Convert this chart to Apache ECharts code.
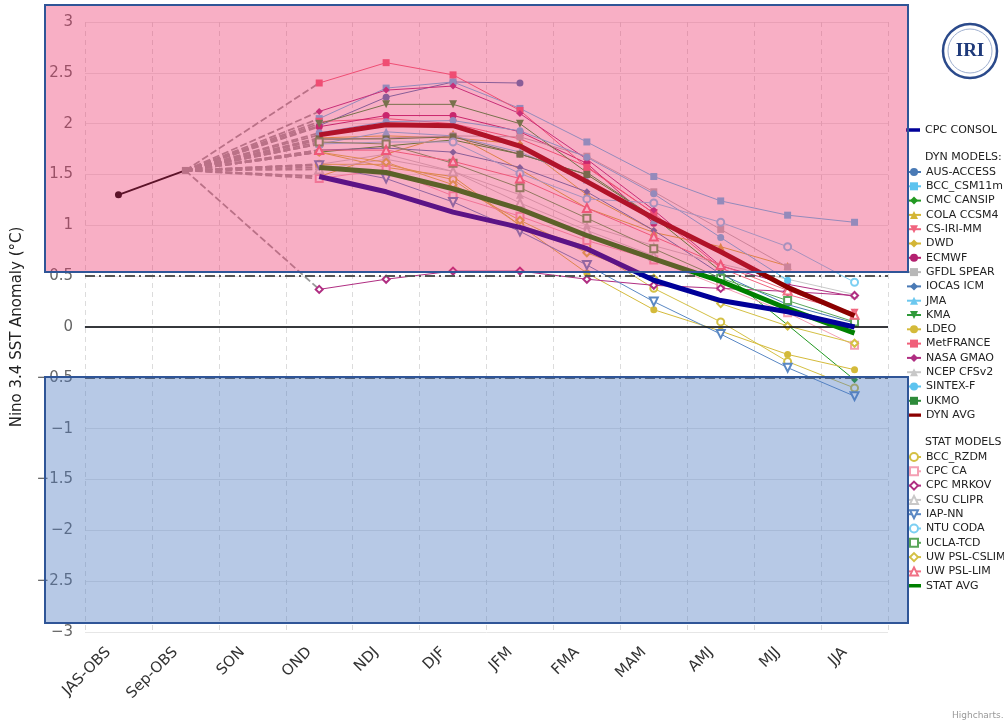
<!DOCTYPE html>
<html><head><meta charset="utf-8">
<script src="https://cdn.jsdelivr.net/npm/echarts@6/dist/echarts.min.js"></script>
<style>html,body{margin:0;padding:0;background:#fff}#c{width:1004px;height:723px}</style>
</head><body><div id="c"></div>
<script>
// ---- categories / ticks ----
const categories = ['JAS-OBS','Sep-OBS','SON','OND','NDJ','DJF','JFM','FMA','MAM','AMJ','MJJ','JJA'];
const yTicks = [-3,-2.5,-2,-1.5,-1,-0.5,0,0.5,1,1.5,2,2.5,3];
// ---- observations ----
const OBS = [1.30, 1.54];
// ---- forecasts, starting at OND ----
const CPC_CONSOL = [1.48, 1.33, 1.13, 0.98, 0.77, 0.46, 0.26, 0.15, 0.0];
const DYN_AVG    = [1.89, 1.99, 1.98, 1.78, 1.43, 1.07, 0.74, 0.39, 0.11];
const STAT_AVG   = [1.57, 1.52, 1.36, 1.16, 0.90, 0.67, 0.45, 0.18, -0.06];

const AUS_ACCESS = [1.98, 2.26, 2.41, 2.40];
const BCC_CSM11m = [2.05, 2.35, 2.41, 2.15, 1.82, 1.48, 1.24, 1.10, 1.03];
const CMC_CANSIP = [1.72, 1.78, 1.84, 1.70, 1.50, 1.08, 0.55, 0.02, -0.52];
const COLA_CCSM4 = [1.48, 1.70, 1.90, 1.55, 1.17, 0.93, 0.79, 0.60];
const CS_IRI_MM  = [2.02, 2.05, 2.00, 1.85, 1.58, 1.12, 0.58, 0.32, 0.14];
const DWD        = [1.86, 1.88, 1.86, 1.80, 1.30, 0.95];
const ECMWF      = [1.97, 2.08, 2.08, 1.92, 1.61, 1.02];
const GFDL_SPEAR = [1.84, 1.86, 1.88, 1.87, 1.68, 1.33, 0.96, 0.59];
const IOCAS_ICM  = [1.74, 1.76, 1.72, 1.57, 1.33, 0.95, 0.52, 0.22, 0.04];
const JMA        = [1.80, 1.92, 1.88, 1.72, 1.45, 1.05];
const KMA        = [2.00, 2.19, 2.19, 2.00, 1.52, 1.08];
const LDEO       = [1.72, 1.57, 1.48, 1.00, 0.53, 0.17, -0.04, -0.27, -0.42];
const MetFRANCE  = [2.40, 2.60, 2.48, 2.13, 1.57, 1.12];
const NASA_GMAO  = [2.12, 2.33, 2.37, 2.10, 1.65, 1.15, 0.60, 0.42, 0.30];
const NCEP_CFSv2 = [1.60, 1.70, 1.53, 1.30, 1.00, 0.80, 0.62, 0.47, 0.32];
const SINTEX_F   = [1.91, 2.02, 2.03, 1.93, 1.67, 1.31, 0.88, 0.46];
const UKMO       = [1.85, 1.85, 1.87, 1.70, 1.50];

const BCC_RZDM   = [1.60, 1.60, 1.45, 1.00, 0.79, 0.38, 0.05, -0.34, -0.60];
const CPC_CA     = [1.46, 1.55, 1.29, 1.09, 0.85, 0.66, 0.40, 0.14, -0.18];
const CPC_MRKOV  = [0.37, 0.47, 0.55, 0.55, 0.47, 0.41, 0.38, 0.35, 0.31];
const CSU_CLIPR  = [1.55, 1.65, 1.53, 1.22, 0.95, 0.70];
const IAP_NN     = [1.59, 1.46, 1.23, 0.94, 0.61, 0.25, -0.07, -0.40, -0.68];
const NTU_CODA   = [1.80, 1.82, 1.82, 1.51, 1.26, 1.22, 1.03, 0.79, 0.44];
const UCLA_TCD   = [1.82, 1.80, 1.61, 1.37, 1.07, 0.77, 0.48, 0.26, 0.05];
const UW_PSL_CSLIM = [1.72, 1.62, 1.40, 1.05, 0.73, 0.48, 0.23, 0.01, -0.16];
const UW_PSL_LIM   = [1.74, 1.74, 1.63, 1.46, 1.17, 0.89, 0.61, 0.36, 0.12];

const START = 3; // OND index
function pad(arr){ const out = new Array(categories.length).fill(null); arr.forEach((v,i)=>{out[START+i]=v;}); return out; }

const dyn = [
  ['AUS-ACCESS', AUS_ACCESS, '#4a7ab5', 'circle', 0],
  ['BCC_CSM11m', BCC_CSM11m, '#5cc3ef', 'rect', 0],
  ['CMC CANSIP', CMC_CANSIP, '#229922', 'diamond', 0],
  ['COLA CCSM4', COLA_CCSM4, '#d4b535', 'triangle', 0],
  ['CS-IRI-MM', CS_IRI_MM, '#f0647e', 'triangle', 180],
  ['DWD', DWD, '#d4b535', 'diamond', 0],
  ['ECMWF', ECMWF, '#b3206f', 'circle', 0],
  ['GFDL SPEAR', GFDL_SPEAR, '#b8b8b8', 'rect', 0],
  ['IOCAS ICM', IOCAS_ICM, '#4a7ab5', 'diamond', 0],
  ['JMA', JMA, '#6cc8ef', 'triangle', 0],
  ['KMA', KMA, '#2f9a3a', 'triangle', 180],
  ['LDEO', LDEO, '#d4ba3a', 'circle', 0],
  ['MetFRANCE', MetFRANCE, '#f0607a', 'rect', 0],
  ['NASA GMAO', NASA_GMAO, '#b02e82', 'diamond', 0],
  ['NCEP CFSv2', NCEP_CFSv2, '#c8c8c8', 'triangle', 0],
  ['SINTEX-F', SINTEX_F, '#5cc3ef', 'circle', 0],
  ['UKMO', UKMO, '#2e8b3a', 'rect', 0]
];
const stat = [
  ['BCC_RZDM', BCC_RZDM, '#d4c044', 'emptyCircle', 0],
  ['CPC CA', CPC_CA, '#f4a0b4', 'emptyRect', 0],
  ['CPC MRKOV', CPC_MRKOV, '#b02e82', 'emptyDiamond', 0],
  ['CSU CLIPR', CSU_CLIPR, '#c8c8c8', 'emptyTriangle', 0],
  ['IAP-NN', IAP_NN, '#5a88c4', 'emptyTriangle', 180],
  ['NTU CODA', NTU_CODA, '#7ccff2', 'emptyCircle', 0],
  ['UCLA-TCD', UCLA_TCD, '#5aa65a', 'emptyRect', 0],
  ['UW PSL-CSLIM', UW_PSL_CSLIM, '#d4c044', 'emptyDiamond', 0],
  ['UW PSL-LIM', UW_PSL_LIM, '#f07084', 'emptyTriangle', 0]
];

const series = [];
// dashed connectors from last observation to each first forecast
[...dyn, ...stat, ['DYN AVG', DYN_AVG], ['STAT AVG', STAT_AVG], ['CPC CONSOL', CPC_CONSOL]].forEach(m => {
  const d = new Array(categories.length).fill(null);
  d[1] = OBS[1]; d[START] = m[1][0];
  series.push({type:'line', name:'_dash_'+m[0], data:d, connectNulls:true, symbol:'none', silent:true,
    lineStyle:{color:'#9a9a9a', width:1.8, type:[7,3]}, z:1, animation:false});
});
function modelSeries(m){
  const sz = m[3].indexOf('riangle')>=0 ? 8 : 7;
  return {type:'line', name:m[0], data:pad(m[1]), symbol:m[3], symbolRotate:m[4], symbolSize:sz,
    showSymbol:true, connectNulls:false, color:m[2],
    lineStyle:{color:m[2], width:1}, itemStyle:{color:m[2], borderColor:m[2], borderWidth: m[3].startsWith('empty')?1.2:0},
    z:3, animation:false};
}
dyn.forEach(m => series.push(modelSeries(m)));
stat.forEach(m => series.push(modelSeries(m)));
series.push({type:'line', name:'OBS', data:[OBS[0], {value:OBS[1], symbol:'rect', symbolSize:7, itemStyle:{color:'#9a9a9a'}}].concat(new Array(categories.length-2).fill(null)),
  symbol:'circle', symbolSize:7, color:'#000', lineStyle:{color:'#000', width:2}, itemStyle:{color:'#000'}, z:5, animation:false});
series.push({type:'line', name:'DYN AVG', data:pad(DYN_AVG), symbol:'none', color:'#8b0000', lineStyle:{color:'#8b0000', width:5}, z:6, animation:false});
series.push({type:'line', name:'STAT AVG', data:pad(STAT_AVG), symbol:'none', color:'#008000', lineStyle:{color:'#008000', width:5}, z:6, animation:false});
series.push({type:'line', name:'CPC CONSOL', data:pad(CPC_CONSOL), symbol:'none', color:'#000099', lineStyle:{color:'#000099', width:5}, z:7, animation:false,
  markLine:{silent:true, symbol:'none', label:{show:false}, animation:false,
    data:[
      {yAxis:0, lineStyle:{color:'#000', width:1.5, type:'solid'}},
      {yAxis:0.5, lineStyle:{color:'#555', width:2, type:[10,4,2,4]}},
      {yAxis:-0.5, lineStyle:{color:'#555', width:2, type:[10,4,2,4]}}
    ]}});

const thickIcon = 'path://M0,0L0.05,0M0,10L0.05,10M0,3.3H14V6.7H0Z';
const legendText = {fontFamily:'DejaVu Sans', fontSize:11, color:'#222'};
const legendBase = {orient:'vertical', left:906, itemWidth:14, itemHeight:10, itemGap:3.3, padding:0, selectedMode:false, textStyle:legendText};

const option = {
  animation:false,
  backgroundColor:'#fff',
  grid:{left:85, right:116, top:22, bottom:91},
  xAxis:{type:'category', data:categories, boundaryGap:true,
    axisLine:{lineStyle:{color:'#ccd6eb', width:1.5}}, axisTick:{show:false},
    axisLabel:{rotate:45, fontFamily:'DejaVu Sans', fontSize:15, color:'#333', margin:8, interval:0, padding:[0,14,0,0]},
    splitLine:{show:true, lineStyle:{color:'#dcdcdc', type:[5,4], width:1}}},
  yAxis:{type:'value', min:-3, max:3, interval:0.5,
    name:'Nino 3.4 SST Anomaly (°C)', nameLocation:'middle', nameGap:60,
    nameTextStyle:{fontFamily:'DejaVu Sans', fontSize:15, color:'#222'},
    axisLine:{show:false}, axisTick:{show:false},
    axisLabel:{fontFamily:'DejaVu Sans', fontSize:15, color:'#666', margin:12,
      formatter: v => (yTicks.indexOf(v)>=0 ? String(v).replace('-', '\u2212') : '')},
    splitLine:{lineStyle:{color:'#e6e6e6', width:1}}},
  legend:[
    Object.assign({}, legendBase, {top:124.5, data:[{name:'CPC CONSOL', icon:thickIcon}]}),
    Object.assign({}, legendBase, {top:166.5, data:dyn.map(m=>m[0]).concat([{name:'DYN AVG', icon:thickIcon}])}),
    Object.assign({}, legendBase, {top:451.5, data:stat.map(m=>m[0]).concat([{name:'STAT AVG', icon:thickIcon}])})
  ],
  graphic:[
    {type:'rect', z:100, silent:true, shape:{x:45, y:5, width:863, height:267},
      style:{fill:'rgba(236,49,105,0.39)', stroke:'#2f5597', lineWidth:2}},
    {type:'rect', z:100, silent:true, shape:{x:45, y:377, width:863, height:246},
      style:{fill:'rgba(75,120,192,0.40)', stroke:'#2f5597', lineWidth:2}},
    {type:'text', z:101, left:925, top:152, style:{text:'DYN MODELS:', font:'11px "DejaVu Sans"', fill:'#222'}},
    {type:'text', z:101, left:925, top:437, style:{text:'STAT MODELS', font:'11px "DejaVu Sans"', fill:'#222'}},
    {type:'circle', z:101, shape:{cx:970, cy:51, r:27}, style:{fill:'#fff', stroke:'#2b4a8b', lineWidth:2.5}},
    {type:'circle', z:101, shape:{cx:970, cy:51, r:22}, style:{fill:'none', stroke:'#9fb0d0', lineWidth:1}},
    {type:'text', z:102, x:970, y:51, style:{text:'IRI', font:'bold 19px "Liberation Serif"', fill:'#1f3a7a', align:'center', verticalAlign:'middle'}},
    {type:'text', z:101, left:952, top:711, style:{text:'Highcharts.com', font:'9px "DejaVu Sans"', fill:'#999'}}
  ],
  series: series
};
const chart = echarts.init(document.getElementById('c'), null, {renderer:'canvas'});
chart.setOption(option);
</script></body></html>
